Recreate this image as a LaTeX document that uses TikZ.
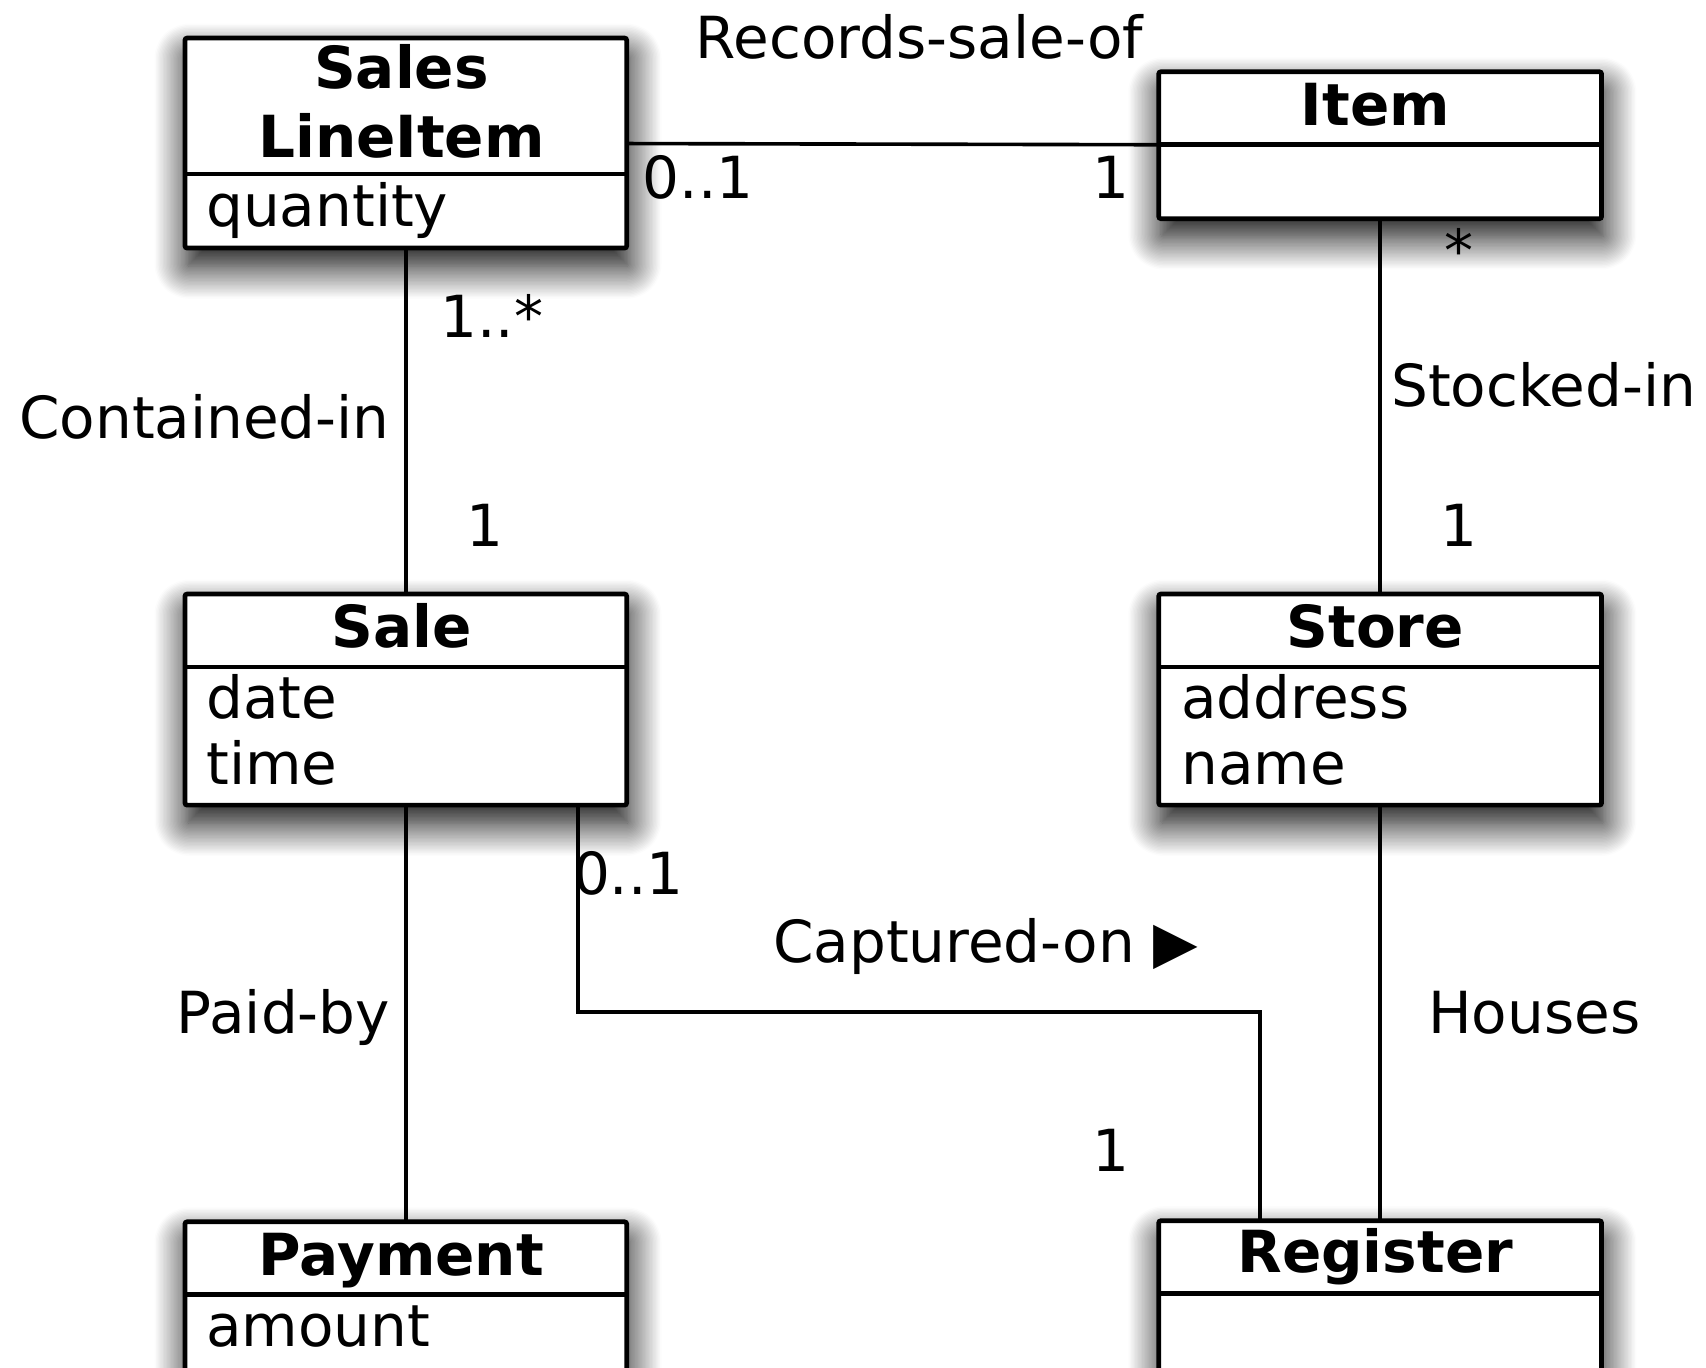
\documentclass[tikz,border=0pt]{standalone}
\usepackage{fontspec}
\setmainfont{DejaVu Sans}
\usetikzlibrary{shadows.blur}

\tikzset{
  classbox/.style={draw=black, fill=white, line width=1.3pt, rounded corners=0.6pt,
    outer sep=0pt, inner sep=0pt,
    blur shadow={shadow xshift=0.6pt, shadow yshift=-5pt,
                 shadow blur radius=9pt, shadow blur steps=24, shadow opacity=100}},
  divider/.style={line width=1.3pt},
  assoc/.style={line width=1pt},
  title/.style={font=\fontsize{16}{19}\selectfont\bfseries, inner sep=0pt, anchor=base},
  attr/.style={font=\fontsize{16}{19}\selectfont, inner sep=0pt, anchor=base west},
  lbl/.style={font=\fontsize{16}{19}\selectfont, inner sep=0pt, anchor=base west},
  lblc/.style={font=\fontsize{16}{19}\selectfont, inner sep=0pt, anchor=base},
}

\begin{document}
\begin{tikzpicture}[x=0.3pt, y=-0.3pt]
  \useasboundingbox (0,0) rectangle (1568,1257);

  % class boxes
  \node[classbox, minimum width=121.8pt, minimum height=57.9pt] (sli) at (373,131.5) {};
  \node[classbox, minimum width=122.1pt, minimum height=40.5pt] (item) at (1268.5,133.5) {};
  \node[classbox, minimum width=121.8pt, minimum height=58.2pt] (sale) at (373,643) {};
  \node[classbox, minimum width=122.1pt, minimum height=58.2pt] (store) at (1268.5,643) {};
  \node[classbox, minimum width=121.8pt, minimum height=53.1pt] (pay) at (373,1211.5) {};
  \node[classbox, minimum width=122.1pt, minimum height=53.1pt] (reg) at (1268.5,1210.5) {};

  % compartment dividers
  \draw[divider] (sli.west |- 0,160) -- (sli.east |- 0,160);
  \draw[divider] (item.west |- 0,133) -- (item.east |- 0,133);
  \draw[divider] (sale.west |- 0,613) -- (sale.east |- 0,613);
  \draw[divider] (store.west |- 0,613) -- (store.east |- 0,613);
  \draw[divider] (pay.west |- 0,1190) -- (pay.east |- 0,1190);
  \draw[divider] (reg.west |- 0,1189) -- (reg.east |- 0,1189);

  % class names
  \node[title] (tsli1) at (369,81) {Sales};
  \node[title] (tsli2) at (369,145) {LineItem};
  \node[title] (titem) at (1264,115) {Item};
  \node[title] (tsale) at (369,595) {Sale};
  \node[title] (tstore) at (1264,595) {Store};
  \node[title] (tpay) at (369,1172) {Payment};
  \node[title] (treg) at (1264,1170) {Register};

  % attributes
  \node[attr] (aqty) at (189,208) {quantity};
  \node[attr] (adate) at (189,660) {date};
  \node[attr] (atime) at (189,721.5) {time};
  \node[attr] (aaddr) at (1085,660) {address};
  \node[attr] (aname) at (1085,721.5) {name};
  \node[attr] (aamt) at (189,1238) {amount};

  % associations
  \draw[assoc] (sli) -- (item);
  \draw[assoc] (sli.south) -- (sale.north);
  \draw[assoc] (item.south) -- (store.north);
  \draw[assoc] (sale.south) -- (pay.north);
  \draw[assoc] (store.south) -- (reg.north);
  \coordinate (capA) at (531,930);
  \coordinate (capB) at (1158,930);
  \draw[assoc] (sale.south -| capA) -- (capA) -- (capB) -- (reg.north -| capB);

  % association names and multiplicities
  \node[lbl] (lrec) at (639,54) {Records-sale-of};
  \node[lbl] (m1) at (590,182) {0..1};
  \node[lblc] (m2) at (1021,182) {1};
  \node[lblc] (m3) at (1341,250) {*};
  \node[lbl] (m4) at (404,310) {1..*};
  \node[lbl] (lcont) at (17,403) {Contained-in};
  \node[lblc] (m5) at (446,502) {1};
  \node[lbl] (lstock) at (1278,374) {Stocked-in};
  \node[lblc] (m6) at (1341,502) {1};
  \node[lbl] (m7) at (526,822) {0..1};
  \node[lbl] (lcap) at (710,885) {Captured-on ▶};
  \node[lbl] (lpaid) at (162,950) {Paid-by};
  \node[lbl] (lhouse) at (1312,950) {Houses};
  \node[lblc] (m8) at (1021,1077) {1};
\end{tikzpicture}
\end{document}
